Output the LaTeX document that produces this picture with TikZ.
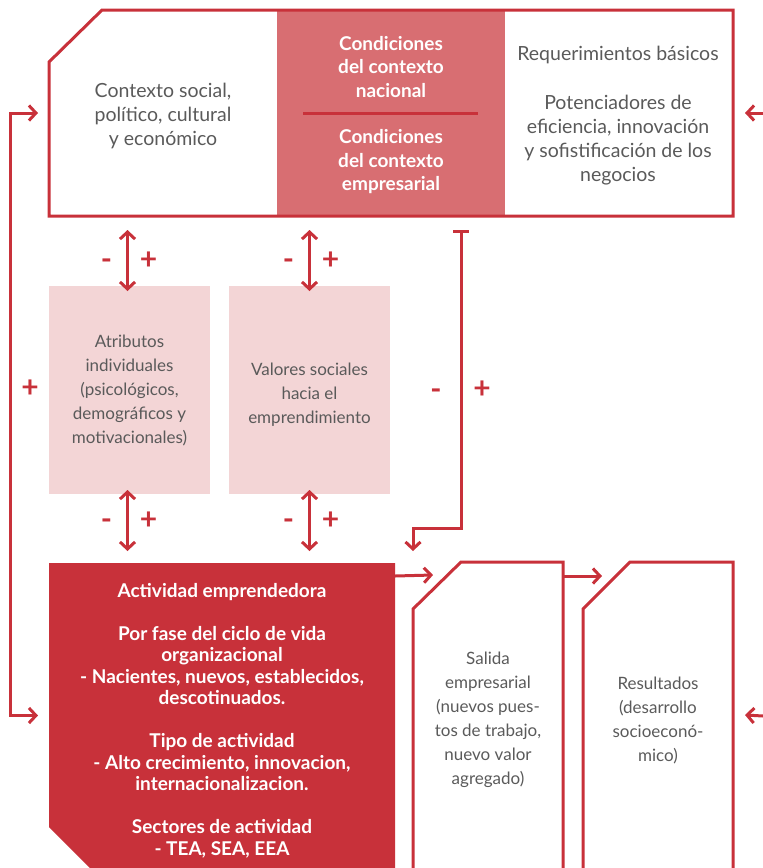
\documentclass[tikz,border=0pt]{standalone}
\usepackage{fontspec}
\setmainfont{Lato}
\usetikzlibrary{arrows.meta,calc,backgrounds}
\definecolor{gemred}{HTML}{C8313A}
\definecolor{gemmid}{HTML}{D86E72}
\definecolor{gempink}{HTML}{F3D5D6}
\definecolor{gemgray}{HTML}{5A5A5A}
\begin{document}
\begin{tikzpicture}[x=1pt,y=-1pt,
    redline/.style={draw=gemred,line width=3pt},
    link/.style={gemred,line width=3pt,-{Straight Barb[length=7pt,width=15pt]}},
    twoway/.style={gemred,line width=3pt,{Straight Barb[length=7pt,width=15pt]}-{Straight Barb[length=7pt,width=15pt]}},
    barline/.style={gemred,line width=3pt,{Bar[width=16pt]}-{Straight Barb[length=7pt,width=15pt]}},
    area/.style={inner sep=0pt,outer sep=0pt},
    graytext/.style={text=gemgray,align=center,font=\fontsize{19.5}{24}\selectfont},
    whitetext/.style={text=white,align=center,font=\fontsize{19}{23.5}\selectfont\bfseries},
    pinkbox/.style={area,fill=gempink,minimum width=161pt,minimum height=208pt,text=gemgray,align=center,font=\fontsize{17}{24}\selectfont},
    outbox/.style={area,minimum width=150pt,minimum height=306pt,text=gemgray,align=center,font=\fontsize{17}{24}\selectfont},
    sign/.style={text=gemred,font=\fontsize{30}{30}\selectfont\bfseries,inner sep=0pt},
    minus/.style={sign,yshift=-4pt}]
  \useasboundingbox (0,0) rectangle (763,868);
  \clip (0,0) rectangle (763,868);
  \node[area,minimum width=684pt,minimum height=206pt] (top) at (391,113) {};
  \node[graytext] (ctx) at (163,116) {Contexto social,\\político, cultural\\y económico};
  \node[whitetext] (cnac) at (391,67) {Condiciones\\del contexto\\nacional};
  \node[whitetext] (cemp) at (391,162) {Condiciones\\del contexto\\empresarial};
  \node[graytext] (req) at (618,55) {Requerimientos básicos};
  \node[graytext] (pot) at (618,140) {Potenciadores de\\eficiencia, innovación\\y sofistificación de los\\negocios};
  \node[pinkbox] (attr) at (129.5,390) {Atributos\\individuales\\(psicológicos,\\demográficos y\\motivacionales)};
  \node[pinkbox] (vals) at (309.5,390) {\rule{0pt}{21pt}Valores sociales\\hacia el\\emprendimiento};
  \node[area,minimum width=346pt,minimum height=305pt,text=white,align=center,
    font=\fontsize{19}{21.5}\selectfont\bfseries] (act) at (222,715.5) {\rule{0pt}{24pt}Actividad emprendedora\\[21.5pt]
    Por fase del ciclo de vida\\organizacional\\- Nacientes, nuevos, establecidos,\\descotinuados.\\[21.5pt]
    Tipo de actividad\\- Alto crecimiento, innovacion,\\internacionalizacion.\\[21.5pt]
    Sectores de actividad\\- TEA, SEA, EEA};
  \node[outbox] (sal) at (488,715) {\rule{0pt}{23pt}Salida\\empresarial\\(nuevos pues-\\tos de trabajo,\\nuevo valor\\agregado)};
  \node[outbox] (res) at (658,715) {\rule{0pt}{23pt}Resultados\\(desarrollo\\socioeconó-\\mico)};
  \begin{scope}[on background layer]
    \fill[gemmid] ($(top.north west)+(228,0)$) rectangle ($(top.south west)+(456,0)$);
    \draw[redline] ($(top.north west)+(0,52)$) -- ($(top.north west)+(53,0)$) -- (top.north east) -- (top.south east) -- (top.south west) -- cycle;
    \draw[redline] (cnac.south |- top.west) ++(-88,0) -- ++(175,0);
    \fill[gemred] (act.north west) -- (act.north east) -- ($(act.south east)+(0,30)$) -- ($(act.south west)+(71,30)$) -- ($(act.south west)+(0,-41)$) -- cycle;
    \draw[redline] ($(sal.north west)+(0,47)$) -- ($(sal.north west)+(48,0)$) -- (sal.north east) -- ($(sal.south east)+(0,20)$) -- ($(sal.south west)+(0,20)$) -- cycle;
    \draw[redline] ($(res.north west)+(0,47)$) -- ($(res.north west)+(47,0)$) -- (res.north east) -- ($(res.south east)+(0,20)$) -- ($(res.south west)+(0,20)$) -- cycle;
  \end{scope}
  \draw[twoway] ($(top.south -| attr.north)+(-2,14)$) -- ($(attr.north)+(-2,5)$)
    node[minus,midway,xshift=-21pt] (m1) {-} node[sign,midway,xshift=21pt] (p1) {+};
  \draw[twoway] ($(top.south -| vals.north)+(0,14)$) -- ($(vals.north)+(0,5)$)
    node[minus,midway,xshift=-21pt] (m2) {-} node[sign,midway,xshift=21pt] (p2) {+};
  \draw[twoway] ($(attr.south)+(-2,-4)$) -- ($(act.north -| attr.south)+(-2,-12)$)
    node[minus,midway,xshift=-21pt] (m3) {-} node[sign,midway,xshift=21pt] (p3) {+};
  \draw[twoway] ($(vals.south)+(0,-4)$) -- ($(act.north -| vals.south)+(0,-12)$)
    node[minus,midway,xshift=-21pt] (m4) {-} node[sign,midway,xshift=21pt] (p4) {+};
  \draw[barline] ($(sal.north west |- top.south)+(48,14)$) -- ++(0,298) -| ($(sal.north west)+(0,-11)$);
  \node[minus] (m5) at (436,390) {-};
  \node[sign] (p5) at (482,390) {+};
  \draw[twoway] ($(top.west)+(-11,0)$) -- ++(-28,0) |- ($(act.west)+(-11,0)$);
  \node[sign] (p6) at (30,389) {+};
  \draw[link] ($(act.north east)+(0,13)$) -- ($(sal.north west)+(20,13)$);
  \draw[link] ($(sal.north east)+(0,14)$) -- ($(res.north west)+(19,14)$);
  \coordinate (in1) at (763,113);
  \coordinate (in2) at (763,716);
  \draw[link] (in1) -- ($(top.east)+(12,0)$);
  \draw[link] (in2) -- ($(res.east)+(12,0)$);
\end{tikzpicture}
\end{document}
